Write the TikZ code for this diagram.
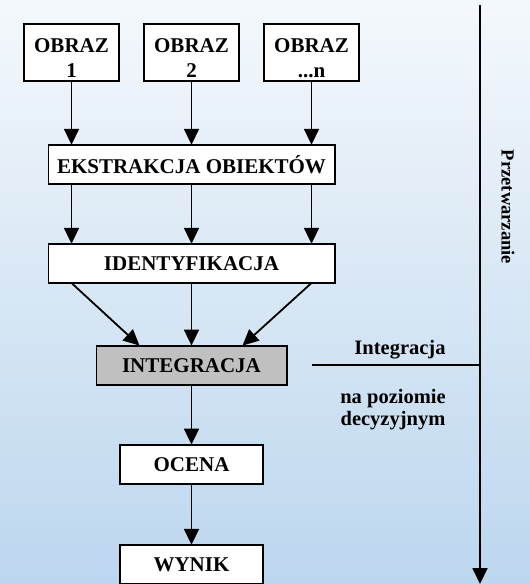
\documentclass[tikz,border=0pt]{standalone}
\usepackage{fontspec}
\setmainfont{Liberation Serif}
\usetikzlibrary{positioning,arrows.meta,calc}

\definecolor{bgtop}{HTML}{F4F8FC}
\definecolor{bgbottom}{HTML}{BCD6EE}
\definecolor{intgray}{HTML}{C0C0C0}

\begin{document}
\begin{tikzpicture}[x=1pt, y=-1pt, node distance=60pt and 24.8pt,
    box/.style={draw, line width=1.8pt, fill=white, align=center, inner sep=2pt, outer sep=0pt, minimum height=39.2pt, font=\fontsize{21}{24.6}\selectfont\bfseries},
    imgbox/.style={box, minimum width=95.2pt, minimum height=57.2pt},
    arrow/.style={-{Triangle[length=16pt, width=15pt]}, line width=1.8pt},
    side/.style={align=center, font=\fontsize{20.5}{22}\selectfont\bfseries}]
    \useasboundingbox (0,0) rectangle (530,584);
    \shade[top color=bgtop, bottom color=bgbottom] (0,0) rectangle (530,584);
    % input images
    \node[imgbox] (img1) at (71.5,52.2) {\rule{0pt}{26pt}OBRAZ\\1};
    \node[imgbox, right=of img1] (img2) {\rule{0pt}{26pt}OBRAZ\\2};
    \node[imgbox, right=of img2] (imgn) {\rule{0pt}{26pt}OBRAZ\\...n};
    % processing chain
    \node[box, minimum width=286.2pt, below=64pt of img2] (ext) {EKSTRAKCJA OBIEKTÓW};
    \node[box, minimum width=286.2pt, below=59.8pt of ext] (ident) {IDENTYFIKACJA};
    \node[box, fill=intgray, minimum width=190.2pt, below=62.6pt of ident] (integ) {INTEGRACJA};
    \node[box, minimum width=143.2pt, below=59.8pt of integ] (ocena) {OCENA};
    \node[box, minimum width=143.2pt, below=61pt of ocena] (wynik) {WYNIK};
    % side axis
    \coordinate (ptop) at (480,5);
    \coordinate (pbot) at (480,584);
    \node[side, rotate=-90, font=\fontsize{18.5}{22}\selectfont\bfseries] (przetw) at (508,207) {Przetwarzanie};
    \node[side, anchor=base] (intlab) at (400,354) {Integracja};
    \node[side, anchor=base] (decyz) at (393,425) {na poziomie\\decyzyjnym};
    % arrows
    \foreach \i in {1,2,n} {
        \draw[arrow] (img\i) -- (img\i |- ext.north);
        \draw[arrow] (img\i |- ext.south) -- (img\i |- ident.north);
    }
    \draw[arrow] (img1 |- ident.south) -- ([xshift=-52pt]integ.north);
    \draw[arrow] (img2 |- ident.south) -- (integ.north);
    \draw[arrow] (imgn |- ident.south) -- ([xshift=51pt]integ.north);
    \draw[arrow] (integ) -- (ocena);
    \draw[arrow] (ocena) -- (wynik);
    \draw[line width=1.8pt] (imgn |- integ) -- (ptop |- integ);
    \draw[arrow] (ptop) -- (pbot);
\end{tikzpicture}
\end{document}
